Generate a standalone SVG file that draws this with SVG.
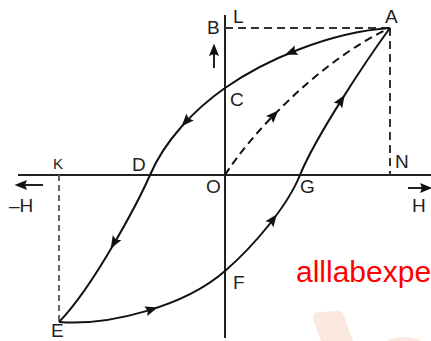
<svg xmlns="http://www.w3.org/2000/svg" width="431" height="341" viewBox="0 0 431 341">
<style>
.ax{stroke:#222;stroke-width:2;fill:none}
.dash{stroke:#333;stroke-width:2;fill:none;stroke-dasharray:8 5}
.dashk{stroke:#666;stroke-width:2;fill:none;stroke-dasharray:6 4}
.crv{stroke:#111;stroke-width:2;fill:none}
.crvd{stroke:#111;stroke-width:2;fill:none;stroke-dasharray:8 5}
.lbl{font-family:"Liberation Sans",Arial,sans-serif;font-size:19px;fill:#222}
.sm{font-size:15px}
.wm{font-family:"Liberation Sans",Arial,sans-serif;font-size:30px;fill:#ff0000}
.tri{fill:#111}
.pale{fill:#fbe8df}
</style>
<defs>
<path id="ah" d="M6.5,0 L-6,-5 L-4,0 L-6,5 Z"/>
</defs>
<rect width="431" height="341" fill="#ffffff"/>
<g id="watermark-shapes">
<path class="pale" d="M313,319 Q312,313 319,312 L338,311 Q343,311 344,316 L353,341 L321,341 Z"/>
<ellipse class="pale" cx="404" cy="344" rx="19" ry="7"/>
</g>
<g id="axes">
<line class="ax" x1="225" y1="15" x2="225" y2="338"/>
<line class="ax" x1="18" y1="175" x2="431" y2="175"/>
</g>
<g id="guides">
<line class="dash" x1="225" y1="28" x2="390" y2="28"/>
<line class="dash" x1="390" y1="28" x2="390" y2="175"/>
<line class="dashk" x1="59" y1="175" x2="59" y2="322"/>
</g>
<g id="connectors">
<path id="upper" class="crv" d="M390,28 C330,32 265,60 225,88 C195,109 165,140 150,175 C140,198 95,285 59,322"/>
<path id="lower" class="crv" d="M59,322 C110,326 185,306 225,271 C255,245 288,205 300,175 C315,138 365,62 390,28"/>
<path id="initial" class="crvd" d="M225,175 C250,135 320,60 390,28"/>
<use href="#ah" class="tri" transform="translate(291,52.4) rotate(157.7)"/>
<use href="#ah" class="tri" transform="translate(186,121.5) rotate(132.4)"/>
<use href="#ah" class="tri" transform="translate(114,243) rotate(120.2)"/>
<use href="#ah" class="tri" transform="translate(151.5,309.5) rotate(-17.5)"/>
<use href="#ah" class="tri" transform="translate(273,219.4) rotate(-52.8)"/>
<use href="#ah" class="tri" transform="translate(341.2,100.4) rotate(-57.9)"/>
<use href="#ah" class="tri" transform="translate(273.8,115.2) rotate(-45.9)"/>
</g>
<g id="direction-arrows">
<line class="ax" x1="214" y1="68" x2="214" y2="52"/>
<use href="#ah" class="tri" transform="translate(214,50) rotate(-90)"/>
<line class="ax" x1="43" y1="185" x2="24" y2="185"/>
<use href="#ah" class="tri" transform="translate(21,185) rotate(180)"/>
<line class="ax" x1="408" y1="188" x2="424" y2="188"/>
<use href="#ah" class="tri" transform="translate(426,188)"/>
</g>
<g id="node-B"><text class="lbl" x="207" y="34">B</text></g>
<g id="node-L"><text class="lbl" x="233" y="23">L</text></g>
<g id="node-A"><text class="lbl" x="385" y="23">A</text></g>
<g id="node-C"><text class="lbl" x="230" y="106">C</text></g>
<g id="node-K"><text class="lbl sm" x="53" y="169">K</text></g>
<g id="node-D"><text class="lbl" x="132" y="171">D</text></g>
<g id="node-N"><text class="lbl" x="395" y="168">N</text></g>
<g id="node-O"><text class="lbl" x="206" y="193">O</text></g>
<g id="node-G"><text class="lbl" x="300" y="193">G</text></g>
<g id="node-negH"><text class="lbl" x="9" y="212">–H</text></g>
<g id="node-H"><text class="lbl" x="412" y="212">H</text></g>
<g id="node-F"><text class="lbl" x="233" y="289">F</text></g>
<g id="node-E"><text class="lbl" x="51" y="337">E</text></g>
<text class="wm" x="296" y="282">alllabexpe</text>
</svg>
